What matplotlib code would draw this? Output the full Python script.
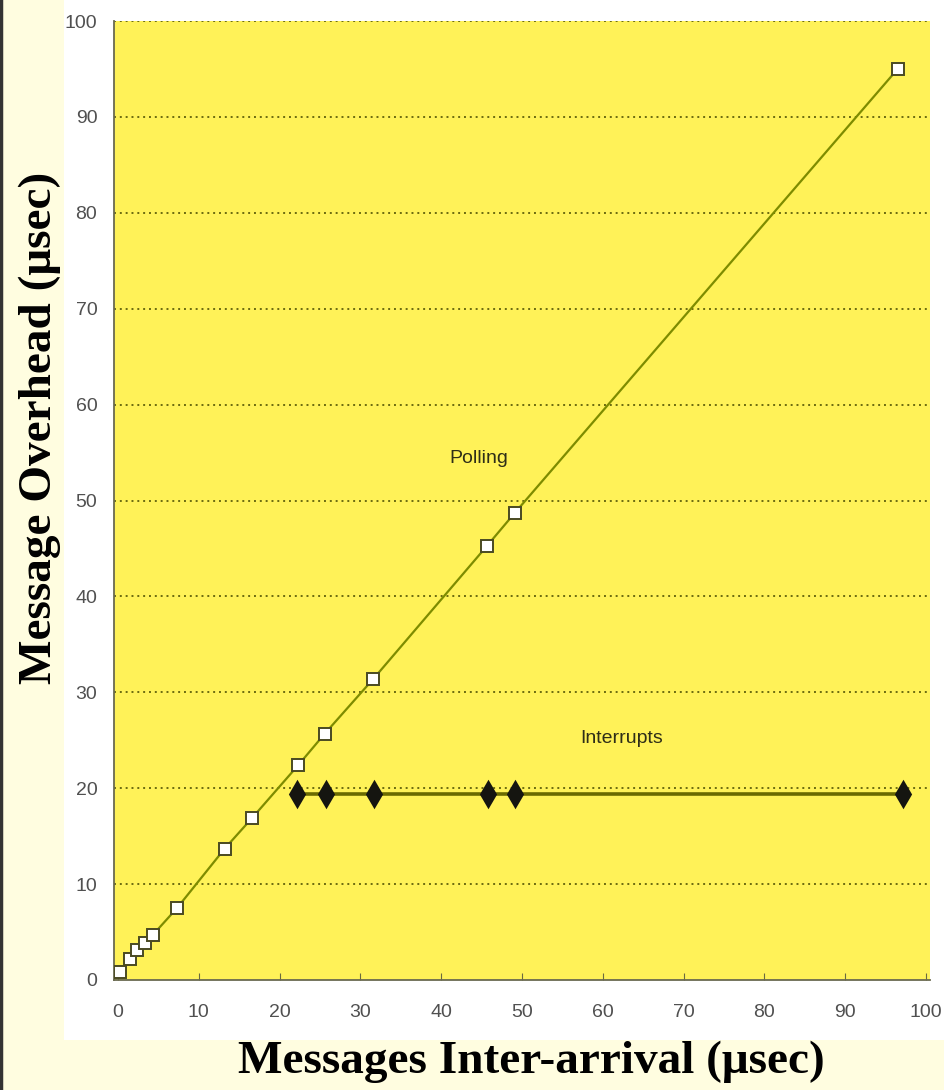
import matplotlib.pyplot as plt
from matplotlib.patches import Rectangle
from matplotlib.lines import Line2D

# polling: overhead grows with inter-arrival time
poll_x = [0.2, 1.5, 2.4, 3.3, 4.3, 7.3, 13.2, 16.6, 22.3, 25.6, 31.6, 45.7, 49.1, 96.5]
poll_y = [0.8, 2.2, 3.1, 3.9, 4.7, 7.5, 13.7, 16.9, 22.4, 25.7, 31.4, 45.3, 48.7, 95.0]

# interrupts: flat overhead
intr_x = [22.2, 25.7, 31.7, 45.8, 49.1, 97.2]
intr_y = [19.4, 19.4, 19.4, 19.4, 19.4, 19.4]

xticks = [0, 10, 20, 30, 40, 50, 60, 70, 80, 90, 100]
yticks = [0, 10, 20, 30, 40, 50, 60, 70, 80, 90, 100]

fig = plt.figure(figsize=(9.45, 10.9), dpi=100)
fig.patch.set_facecolor('#fffde0')

# white panel behind the pasted chart + dark left border
fig.patches.append(Rectangle((64 / 945, 1 - 1040 / 1090), 1 - 64 / 945, 1040 / 1090,
                             transform=fig.transFigure, facecolor='white',
                             edgecolor='none', zorder=-5))
fig.lines.append(Line2D([0.001, 0.001], [0, 1], transform=fig.transFigure,
                        color='#333333', lw=2.5, zorder=-4))

ax = fig.add_axes([114 / 945, 1 - 980 / 1090, (930 - 114) / 945, (980 - 21) / 1090])
ax.set_zorder(2)
ax.set_facecolor('#fff258')

ax.plot(poll_x, poll_y, color='#7e8c00', lw=1.6, zorder=3)
ax.plot(poll_x, poll_y, ls='none', marker='s', ms=9, mfc='white',
        mec='#4a4a22', mew=1.4, zorder=4)
ax.plot(intr_x, intr_y, color='#6a6a00', lw=2.6, zorder=3)
ax.plot(intr_x, intr_y, ls='none', marker='d', ms=12, mfc='#151510',
        mec='#151510', mew=2, zorder=5)

ax.text(44.6, 54.4, 'Polling', fontsize=14, color='#2e2e18', ha='center', va='center',
        family='Liberation Sans')
ax.text(62.3, 25.2, 'Interrupts', fontsize=14, color='#2e2e18', ha='center', va='center',
        family='Liberation Sans')

ax.set_xlim(-0.5, 100.5)
ax.set_ylim(0, 100)
ax.set_xticks(xticks)
ax.set_yticks(yticks)
ax.tick_params(axis='both', direction='in', length=5, color='#6a6a40',
               labelsize=14, labelcolor='#505050')
ax.tick_params(axis='x', pad=17)
ax.tick_params(axis='y', pad=12, length=0)
for lab in ax.get_xticklabels() + ax.get_yticklabels():
    lab.set_family('Liberation Sans')

for y in yticks[1:]:
    ax.axhline(y, color='#6a6a10', lw=1.4, ls=(0, (1, 2)), zorder=2)

ax.spines['top'].set_visible(False)
ax.spines['right'].set_visible(False)
ax.spines['left'].set_color('#6a6a50')
ax.spines['bottom'].set_color('#6a6a50')
ax.spines['left'].set_linewidth(1.3)
ax.spines['bottom'].set_linewidth(1.3)

fig.text(531 / 945, 1 - 1062 / 1090, 'Messages Inter-arrival (\u03bcsec)',
         fontsize=34, fontweight='bold', family='Liberation Serif',
         ha='center', va='center')
fig.text(40 / 945, 1 - 428 / 1090, 'Message Overhead (\u03bcsec)',
         fontsize=34, fontweight='bold', family='Liberation Serif',
         ha='center', va='center', rotation=90)

fig.savefig('out.png', dpi=100, facecolor=fig.get_facecolor())
